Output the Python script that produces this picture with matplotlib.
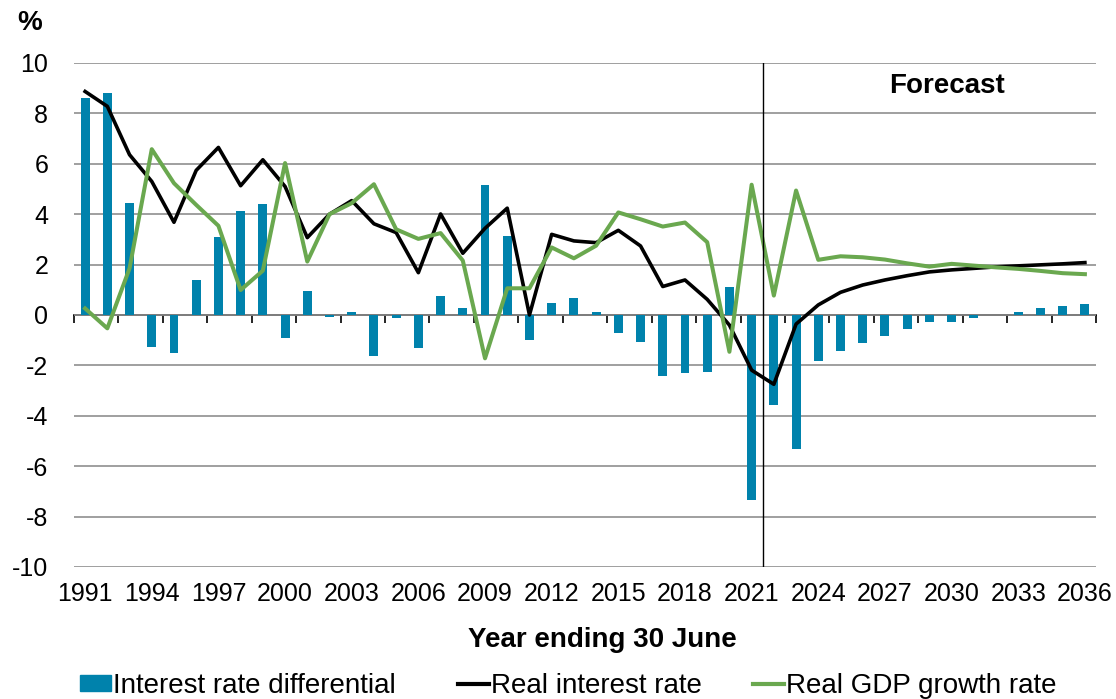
import matplotlib
matplotlib.use("Agg")
import matplotlib.pyplot as plt
from matplotlib.lines import Line2D
from matplotlib.patches import Patch

plt.rcParams["font.family"] = ["Liberation Sans", "DejaVu Sans"]
plt.rcParams["axes.unicode_minus"] = False

years = list(range(1991, 2037))

interest_rate_differential = [
    8.61, 8.81, 4.45, -1.26, -1.52, 1.39, 3.10, 4.13, 4.40, -0.93,
    0.95, -0.07, 0.12, -1.63, -0.13, -1.32, 0.75, 0.26, 5.15, 3.15,
    -0.99, 0.49, 0.66, 0.11, -0.70, -1.07, -2.41, -2.30, -2.28, 1.11,
    -7.35, -3.56, -5.30, -1.81, -1.44, -1.10, -0.82, -0.54, -0.29, -0.26,
    -0.13, 0.0, 0.13, 0.28, 0.34, 0.44,
]

real_interest_rate = [
    8.87, 8.28, 6.36, 5.30, 3.68, 5.74, 6.65, 5.13, 6.16, 5.10,
    3.07, 4.00, 4.54, 3.62, 3.27, 1.68, 4.01, 2.45, 3.44, 4.24,
    0.00, 3.20, 2.94, 2.87, 3.36, 2.74, 1.13, 1.39, 0.62, -0.40,
    -2.19, -2.75, -0.36, 0.40, 0.90, 1.19, 1.39, 1.56, 1.71, 1.79,
    1.85, 1.91, 1.95, 1.99, 2.03, 2.08,
]

real_gdp_growth = [
    0.26, -0.53, 1.85, 6.58, 5.23, 4.37, 3.54, 0.99, 1.76, 6.03,
    2.12, 4.00, 4.44, 5.19, 3.40, 3.02, 3.25, 2.16, -1.72, 1.06,
    1.06, 2.68, 2.25, 2.75, 4.07, 3.80, 3.51, 3.67, 2.89, -1.46,
    5.17, 0.77, 4.94, 2.19, 2.33, 2.29, 2.20, 2.05, 1.92, 2.03,
    1.96, 1.89, 1.83, 1.75, 1.66, 1.62,
]

year_labels = list(range(1991, 2037, 3))
forecast_start = 2022

bar_color = "#0082AC"
black = "#000000"
green = "#6AA84F"

W, H = 1116, 699
fig = plt.figure(figsize=(W / 100, H / 100), dpi=100)
ax = fig.add_axes([74 / W, 1 - 567 / H, 1022 / W, 504 / H])

ax.bar(years, interest_rate_differential, width=0.4, color=bar_color, zorder=3)
ax.plot(years, real_interest_rate, color=black, lw=2.6, zorder=4)
ax.plot(years, real_gdp_growth, color=green, lw=2.9, zorder=5)

ax.set_xlim(years[0] - 0.5, years[-1] + 0.5)
ax.set_ylim(-10, 10)
ax.set_yticks(range(-10, 11, 2))
ax.yaxis.grid(True, color="#8f8f8f", lw=1.2, zorder=0)
ax.set_axisbelow(True)
for s in ax.spines.values():
    s.set_visible(False)
ax.tick_params(axis="y", length=0, labelsize=18, pad=18.5)

ax.set_xticks(year_labels)
ax.set_xticklabels([str(y) for y in year_labels])
ax.tick_params(axis="x", length=0, labelsize=18, pad=11)

# zero axis with downward tick marks every two years at category boundaries
zero_axis = ax.secondary_xaxis(0.5)
zero_axis.set_alignment("bottom")
zero_axis.set_xticks([y - 0.5 for y in years[::2]] + [years[-1] + 0.5])
zero_axis.set_xticklabels([])
zero_axis.tick_params(axis="x", direction="out", length=6, width=1.2, color=black)
zero_axis.spines["bottom"].set_color(black)
zero_axis.spines["bottom"].set_linewidth(1.2)

ax.axvline(forecast_start - 0.5, color=black, lw=1, zorder=6)
ax.text(2029.8, 9.1, "Forecast", ha="center", va="center", fontsize=20,
        fontweight="bold")

fig.text(30 / W, 1 - 23 / H, "%", ha="center", va="center", fontsize=20,
         fontweight="bold")
fig.text(602 / W, 1 - 640 / H, "Year ending 30 June", ha="center", va="center",
         fontsize=20, fontweight="bold")

entries = [
    (Patch(color=bar_color), "Interest rate differential", 80),
    (Line2D([], [], color=black, lw=3), "Real interest rate", 458),
    (Line2D([], [], color=green, lw=3), "Real GDP growth rate", 753),
]
for handle, label, x0 in entries:
    fig.legend([handle], [label], loc="center left",
               bbox_to_anchor=(x0 / W, 1 - 686 / H), frameon=False, fontsize=20,
               handlelength=1.1, handleheight=0.5, handletextpad=0.1,
               borderpad=0, borderaxespad=0)

fig.savefig("out.png", dpi=100)
